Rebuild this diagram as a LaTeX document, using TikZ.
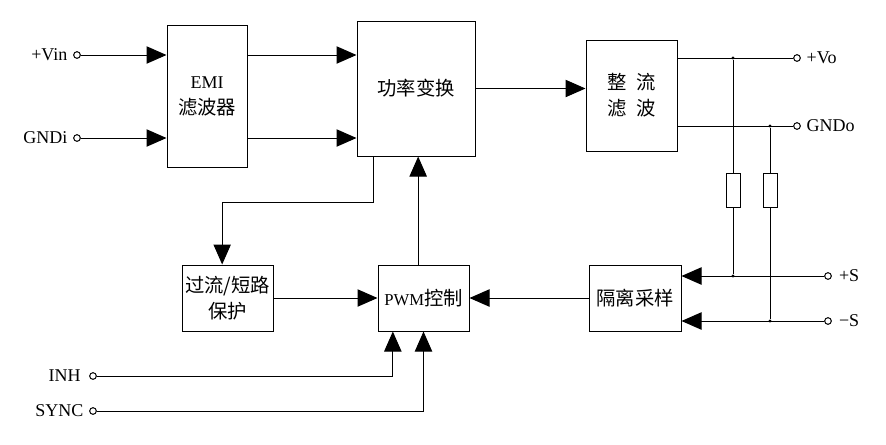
\documentclass[tikz,border=0pt]{standalone}
\usepackage{fontspec}
\setmainfont{Liberation Serif}
\newfontfamily\cjk{Noto Sans CJK SC}
\usetikzlibrary{arrows.meta,positioning}

\begin{document}
\begin{tikzpicture}[x=0.75pt,y=-0.75pt,line width=0.75pt,
            blk/.style={draw,minimum width=68.25pt,minimum height=49.5pt,inner sep=0pt,align=center,font=\cjk\fontsize{14.5}{19.5}\selectfont},
            term/.style={draw,circle,fill=white,minimum size=5pt,inner sep=0pt},
            dot/.style={circle,fill,minimum size=2.5pt,inner sep=0pt},
            res/.style={draw,minimum width=10.5pt,minimum height=25.5pt,inner sep=0pt},
            pin/.style={inner sep=1pt,font=\fontsize{13.5}{15}\selectfont},
            tip/.style={-{Triangle[length=15pt,width=13pt]}}]
            \useasboundingbox (0,0) rectangle (886,444);
            \node[blk,minimum width=60pt,minimum height=106.5pt] (emi) at (207,96) {{\rmfamily\fontsize{13.5}{19.5}\selectfont EMI}\\滤波器};
            \node[blk,minimum width=88.5pt,minimum height=101.25pt] (pwr) at (416,88.5) {功率变换};
            \node[blk,minimum height=83.25pt] (rect) at (631.5,95.5) {整\hspace{.5em}流\\滤\hspace{.5em}波};
            \node[blk] (prot) at (227.5,298) {过流/短路\\保护};
            \node[blk] (pwm) at (423.5,298) {{\rmfamily\fontsize{12.5}{14}\selectfont PWM}控制};
            \node[blk,minimum width=69pt] (iso) at (635,298) {隔离采样};
            \node[term] (vin) at (77,55) {};
            \node[term] (gndi) at (77,138) {};
            \node[term] (vo) at (797,58) {};
            \node[term] (gndo) at (797,126) {};
            \node[term] (ps) at (828,276) {};
            \node[term] (ms) at (828,321) {};
            \node[term] (inh) at (93,376) {};
            \node[term] (sync) at (93,411) {};
            \node[pin,left=3pt of vin] (lvin) {+Vin};
            \node[pin,left=3pt of gndi] (lgndi) {GNDi};
            \node[pin,right=3pt of vo] (lvo) {+Vo};
            \node[pin,right=3pt of gndo] (lgndo) {GNDo};
            \node[pin,right=4pt of ps] (lps) {+S};
            \node[pin,right=4pt of ms] (lms) {−S};
            \node[pin,left=5pt of inh] (linh) {INH};
            \node[pin,left=3pt of sync] (lsync) {SYNC};
            \node[dot] (j1) at (733,58) {};
            \node[dot] (j2) at (770,126) {};
            \node[dot] (j3) at (733,276) {};
            \node[dot] (j4) at (770,321) {};
            \node[res] (r1) at (733,190) {};
            \node[res] (r2) at (770,190.5) {};
            \coordinate (bend) at (373,202);
            \draw[tip] (vin) -- (vin -| emi.west);
            \draw[tip] (gndi) -- (gndi -| emi.west);
            \draw[tip] (vin -| emi.east) -- (vin -| pwr.west);
            \draw[tip] (gndi -| emi.east) -- (gndi -| pwr.west);
            \draw[tip] (pwr.east) -- (pwr.east -| rect.west);
            \draw (vo -| rect.east) -- (vo);
            \draw (gndo -| rect.east) -- (gndo);
            \draw (j1) -- (r1) -- (j3);
            \draw (j2) -- (r2) -- (j4);
            \draw[tip] (ps) -- (ps -| iso.east);
            \draw[tip] (ms) -- (ms -| iso.east);
            \draw[tip] (iso.west) -- (pwm.east);
            \draw[tip] (prot.east) -- (pwm.west);
            \draw[tip] ([xshift=-4pt]pwm.north) -- ([xshift=-4pt]pwm.north |- pwr.south);
            \draw[tip] (bend |- pwr.south) -- (bend) -| ([xshift=-4pt]prot.north);
            \draw[tip] (inh) -| ([xshift=-23pt]pwm.south);
            \draw[tip] (sync) -| (pwm.south);
        \end{tikzpicture}
\end{document}
